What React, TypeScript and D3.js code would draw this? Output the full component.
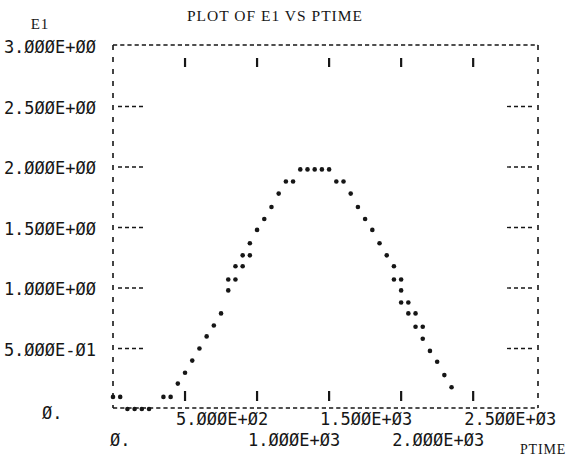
import React from "react";
import * as d3 from "d3";

// PTIME / E1 samples (one dot per printed character)
const PTIME = [
  0, 50, 100, 150, 200, 250, 350, 400,
  450, 500, 550, 600, 650, 700, 750,
  800, 800, 850, 850, 900, 900, 950,
  950, 1000, 1050, 1100, 1150, 1200, 1250,
  1300, 1350, 1400, 1450, 1500, 1550, 1600,
  1650, 1700, 1750, 1800, 1850, 1900, 1950,
  1950, 2000, 2000, 2000, 2050, 2050, 2100,
  2100, 2150, 2150, 2200, 2250, 2300, 2350,
];
const E1 = [
  0.1, 0.1, 0, 0, 0, 0, 0.1, 0.1,
  0.21, 0.3, 0.4, 0.5, 0.6, 0.69, 0.79,
  0.98, 1.07, 1.07, 1.18, 1.18, 1.27, 1.27,
  1.37, 1.48, 1.57, 1.67, 1.78, 1.88, 1.88,
  1.98, 1.98, 1.98, 1.98, 1.98, 1.88, 1.88,
  1.78, 1.67, 1.57, 1.48, 1.37, 1.27, 1.18,
  1.07, 1.07, 0.98, 0.88, 0.88, 0.79, 0.79,
  0.68, 0.68, 0.58, 0.48, 0.39, 0.28, 0.18,
];

const X_TICKS = [0, 500, 1000, 1500, 2000, 2500];
const X_TICK_LABELS = ["Ø.", "5.ØØØE+Ø2", "1.ØØØE+Ø3", "1.5ØØE+Ø3", "2.ØØØE+Ø3", "2.5ØØE+Ø3"];
const Y_TICKS = [0, 0.5, 1, 1.5, 2, 2.5, 3];
const Y_TICK_LABELS = ["Ø.", "5.ØØØE-Ø1", "1.ØØØE+ØØ", "1.5ØØE+ØØ", "2.ØØØE+ØØ", "2.5ØØE+ØØ", "3.ØØØE+ØØ"];

const W = 573, H = 458;
const INK = "#161616";
const MONO = "'DejaVu Sans Mono', monospace";
const SERIF = "'Liberation Serif', 'DejaVu Serif', serif";

export default function App() {
  const x = d3.scaleLinear().domain([0, 2950]).range([113, 538]);
  const y = d3.scaleLinear().domain([0, 3]).range([409, 46]);

  const left = x(0), right = x(2950);
  const top = y(3) - 1, bottom = y(0) - 1;
  const points = PTIME.map((p, i) => [p, E1[i]]);

  return (
    <div style={{ position: "fixed", left: 0, top: 0 }}>
      <svg width={W} height={H} style={{ display: "block", background: "#fff" }}>
        {/* frame, printed as dashes */}
        <g stroke={INK} fill="none">
          <line x1={left} x2={right} y1={top} y2={top} strokeWidth={1.3} strokeDasharray="4.2 3" />
          <line x1={left} x2={right} y1={bottom} y2={bottom} strokeWidth={1.3} strokeDasharray="4.2 3" />
          <line x1={left} x2={left} y1={top} y2={bottom} strokeWidth={1.6} strokeDasharray="5 7" />
          <line x1={right} x2={right} y1={top} y2={bottom} strokeWidth={1.6} strokeDasharray="5 7" />
        </g>

        {/* y ticks: short dashed stubs on both sides */}
        <g stroke={INK} strokeWidth={1.3} strokeDasharray="4 3">
          {Y_TICKS.filter((v) => v > 0 && v < 3).map((v) => (
            <g key={v}>
              <line x1={left + 5} x2={left + 33} y1={y(v)} y2={y(v)} />
              <line x1={right - 31} x2={right - 3} y1={y(v)} y2={y(v)} />
            </g>
          ))}
        </g>

        {/* x ticks: little bars one row inside the frame */}
        <g stroke={INK} strokeWidth={2.2}>
          {X_TICKS.filter((v) => v > 0).map((v) => (
            <g key={v}>
              <line x1={x(v)} x2={x(v)} y1={top + 13} y2={top + 22} />
              <line x1={x(v)} x2={x(v)} y1={bottom - 17} y2={bottom - 7} />
            </g>
          ))}
        </g>

        {/* data dots */}
        <g fill={INK}>
          {points.map(([p, e], i) => (
            <circle key={i} cx={x(p)} cy={y(e)} r={2.3} />
          ))}
        </g>

        {/* y tick labels */}
        <g fontFamily={MONO} fontSize={17} fill={INK}>
          {Y_TICKS.map((v, i) =>
            v === 0 ? (
              <text key={v} x={42} y={y(v) + 4} dominantBaseline="central">{Y_TICK_LABELS[i]}</text>
            ) : (
              <text key={v} x={96} y={y(v) + 1} textAnchor="end" dominantBaseline="central">{Y_TICK_LABELS[i]}</text>
            )
          )}
        </g>

        {/* x tick labels, staggered over two printer lines */}
        <g fontFamily={MONO} fontSize={17} fill={INK}>
          {X_TICKS.map((v, i) => (
            <text
              key={v}
              x={x(v) - (v === 0 ? 3 : 9)}
              y={i % 2 === 0 ? 440 : 419}
              dominantBaseline="central"
            >
              {X_TICK_LABELS[i]}
            </text>
          ))}
        </g>

        {/* titles */}
        <text x={275} y={15} textAnchor="middle" dominantBaseline="central" fontFamily={SERIF} fontSize={15.5} letterSpacing={1} fill={INK}>
          PLOT OF E1 VS PTIME
        </text>
        <text x={40} y={24} textAnchor="middle" dominantBaseline="central" fontFamily={SERIF} fontSize={15} letterSpacing={1} fill={INK}>
          E1
        </text>
        <text x={543} y={449} textAnchor="middle" dominantBaseline="central" fontFamily={SERIF} fontSize={14} letterSpacing={0.8} fill={INK}>
          PTIME
        </text>
      </svg>
    </div>
  );
}
